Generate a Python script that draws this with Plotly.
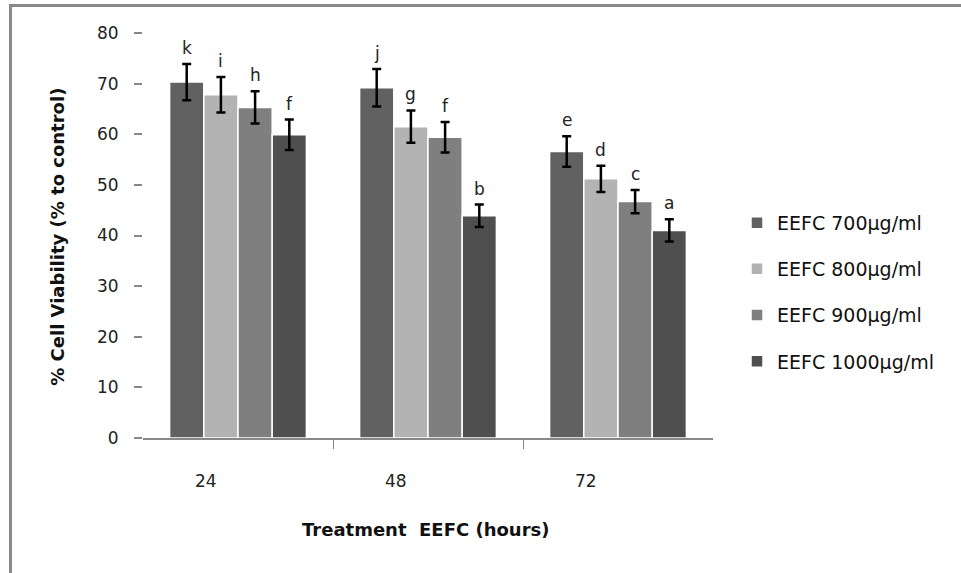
import plotly.graph_objects as go

# ---- data ----
hours = ["24", "48", "72"]
series_names = ["EEFC 700µg/ml", "EEFC 800µg/ml", "EEFC 900µg/ml", "EEFC 1000µg/ml"]
mean_700 = [70.3, 69.2, 56.6]
mean_800 = [67.8, 61.5, 51.2]
mean_900 = [65.3, 59.4, 46.7]
mean_1000 = [59.9, 43.9, 41.0]
err_700 = [3.6, 3.7, 3.0]
err_800 = [3.5, 3.2, 2.6]
err_900 = [3.2, 3.0, 2.3]
err_1000 = [3.0, 2.2, 2.2]
letters_700 = ["k", "j", "e"]
letters_800 = ["i", "g", "d"]
letters_900 = ["h", "f", "c"]
letters_1000 = ["f", "b", "a"]

means = [mean_700, mean_800, mean_900, mean_1000]
errs = [err_700, err_800, err_900, err_1000]
letters = [letters_700, letters_800, letters_900, letters_1000]
colors = ["#616161", "#b3b3b3", "#7f7f7f", "#4f4f4f"]

# ---- layout geometry (pixels) ----
W, H = 961, 573
L, R, T, B = 143, 248, 33, 134.5
plot_w = W - L - R
plot_h = H - T - B

def px_to_paper_x(px):
    return (px - L) / plot_w

def px_to_paper_y(py):
    return (H - B - py) / plot_h

bargap = 0.28
n = len(series_names)
slot = (1 - bargap) / n
xs = list(range(len(hours)))

fig = go.Figure()
for j in range(n):
    fig.add_trace(go.Bar(
        x=xs, y=means[j], name=series_names[j],
        marker=dict(color=colors[j], line=dict(color="white", width=1.5)),
        error_y=dict(type="data", array=errs[j], visible=True,
                     color="black", thickness=2.5, width=4.5),
        legendgroup=f"g{j}",
    ))

annotations = []
# significance letters
for j in range(n):
    off = -(1 - bargap) / 2 + slot * (j + 0.5)
    for i in xs:
        annotations.append(dict(
            x=i + off, y=means[j][i] + errs[j][i], xref="x", yref="y",
            text=letters[j][i], showarrow=False, yanchor="bottom", yshift=4,
            font=dict(family="DejaVu Sans", size=17, color="#222222"),
        ))
# category labels (offset left of group centre, as in the reference)
for i, h in enumerate(hours):
    annotations.append(dict(
        x=i - 0.168, y=px_to_paper_y(482), xref="x", yref="paper",
        text=h, showarrow=False, yanchor="middle",
        font=dict(family="DejaVu Sans", size=17, color="#222222"),
    ))
# x-axis title
annotations.append(dict(
    x=px_to_paper_x(425), y=px_to_paper_y(530), xref="paper", yref="paper",
    text="<b>Treatment  EEFC (hours)</b>", showarrow=False, yanchor="middle",
    font=dict(family="DejaVu Sans", size=18, color="#111111"),
))
# y-axis title
annotations.append(dict(
    x=px_to_paper_x(58), y=px_to_paper_y(237), xref="paper", yref="paper",
    text="<b>% Cell Viability (% to control)</b>", showarrow=False, textangle=-90,
    xanchor="center", yanchor="middle",
    font=dict(family="DejaVu Sans", size=18, color="#111111"),
))

frame_line = dict(color="#888888", width=3)
shapes = [
    dict(type="line", xref="paper", yref="paper",
         x0=px_to_paper_x(10.5), x1=px_to_paper_x(965),
         y0=px_to_paper_y(5.5), y1=px_to_paper_y(5.5), line=frame_line, layer="below"),
    dict(type="line", xref="paper", yref="paper",
         x0=px_to_paper_x(10.5), x1=px_to_paper_x(10.5),
         y0=px_to_paper_y(4), y1=px_to_paper_y(580), line=frame_line, layer="below"),
]

fig.update_layout(
    width=W, height=H,
    margin=dict(l=L, r=R, t=T, b=B, pad=0),
    paper_bgcolor="white", plot_bgcolor="white",
    barmode="group", bargap=bargap, bargroupgap=0,
    showlegend=True,
    legend=dict(x=px_to_paper_x(737), y=px_to_paper_y(204), xanchor="left", yanchor="top",
                font=dict(family="DejaVu Sans", size=19, color="#111111"),
                traceorder="grouped", tracegroupgap=18.5, bgcolor="rgba(0,0,0,0)"),
    annotations=annotations, shapes=shapes,
    xaxis=dict(range=[-0.5, 2.5], tickvals=[0.5, 1.5], ticktext=["", ""],
               ticks="outside", ticklen=9, tickcolor="#888888", tickwidth=1,
               showline=True, linecolor="#888888", linewidth=2,
               showgrid=False, zeroline=False, fixedrange=True),
    yaxis=dict(range=[0, 80], tickvals=list(range(0, 81, 10)),
               ticks="outside", ticklen=8, tickcolor="#888888", tickwidth=1.5,
               ticklabelstandoff=12,
               tickfont=dict(family="DejaVu Sans", size=17, color="#222222"),
               showline=False, showgrid=False, zeroline=False, fixedrange=True),
)

fig.write_html(
    "out.html",
    config={"displayModeBar": False},
    post_script="document.body.style.margin='0';document.body.style.overflow='hidden';",
)
